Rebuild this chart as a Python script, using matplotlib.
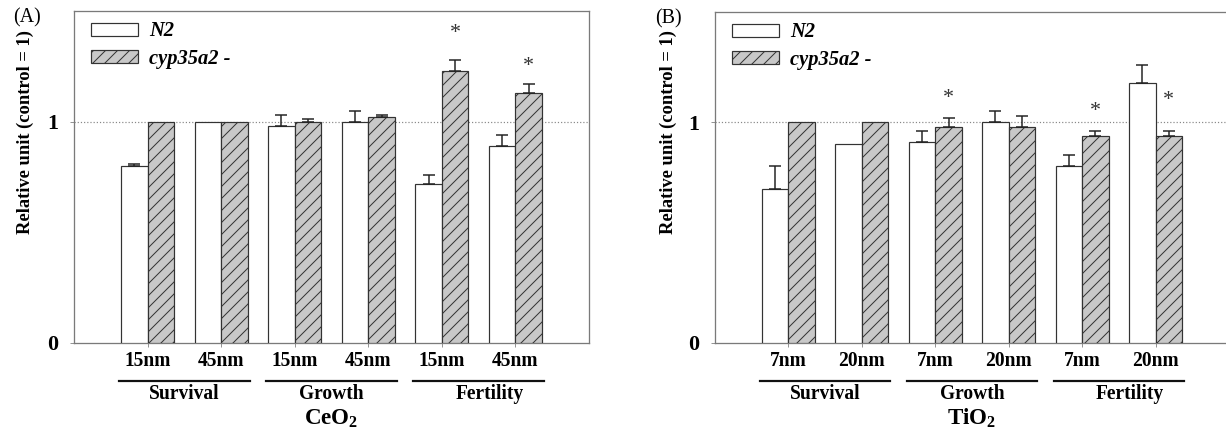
import numpy as np
import matplotlib
matplotlib.use("Agg")
import matplotlib.pyplot as plt
import matplotlib.transforms as mtransforms

plt.rcParams['font.family'] = ['Liberation Serif', 'DejaVu Serif']
plt.rcParams['mathtext.fontset'] = 'custom'
plt.rcParams['mathtext.rm'] = 'Liberation Serif:bold'
plt.rcParams['mathtext.bf'] = 'Liberation Serif:bold'
plt.rcParams['hatch.linewidth'] = 1.0
plt.rcParams['hatch.color'] = '#222222'

#%% data

groups = ["Survival", "Growth", "Fertility"]

# panel A - CeO2
a_ticks = ["15nm", "45nm", "15nm", "45nm", "15nm", "45nm"]
a_n2 = [0.80, 1.00, 0.98, 1.00, 0.72, 0.89]
a_n2_err = [0.01, 0.00, 0.05, 0.05, 0.04, 0.05]
a_cyp = [1.00, 1.00, 1.00, 1.02, 1.23, 1.13]
a_cyp_err = [0.00, 0.00, 0.01, 0.01, 0.05, 0.04]
a_star_idx = [4, 5]
a_star_y = [1.40, 1.25]

# panel B - TiO2
b_ticks = ["7nm", "20nm", "7nm", "20nm", "7nm", "20nm"]
b_n2 = [0.70, 0.90, 0.91, 1.00, 0.80, 1.18]
b_n2_err = [0.10, 0.00, 0.05, 0.05, 0.05, 0.08]
b_cyp = [1.00, 1.00, 0.98, 0.98, 0.94, 0.94]
b_cyp_err = [0.00, 0.00, 0.04, 0.05, 0.02, 0.02]
b_star_idx = [2, 4, 5]
b_star_y = [1.11, 1.05, 1.10]

#%% plotting

W, H, DPI = 1226, 441, 72
fig = plt.figure(figsize=(W / DPI, H / DPI), dpi=DPI)

bar_w = 0.36
edge = '#333333'
spine_col = '#7a7a7a'


def draw_panel(ax, ticks, n2, n2_err, cyp, cyp_err, star_idx, star_y, title, letter, ylab_x):
    x = np.arange(len(ticks))
    ax.bar(x - bar_w / 2, n2, bar_w, color='white', edgecolor=edge, linewidth=1.2,
           label='N2', zorder=3)
    ax.bar(x + bar_w / 2, cyp, bar_w, color='#c8c8c8', edgecolor=edge, linewidth=1.2,
           hatch='//', label='cyp35a2 -', zorder=3)
    for xi, v, e in zip(x, n2, n2_err):
        if e > 0:
            ax.errorbar(xi - bar_w / 2, v, yerr=[[0], [e]], color='#222222', lw=1.5,
                        capsize=6, capthick=1.5, zorder=4)
    for xi, v, e in zip(x, cyp, cyp_err):
        if e > 0:
            ax.errorbar(xi + bar_w / 2, v, yerr=[[0], [e]], color='#222222', lw=1.5,
                        capsize=6, capthick=1.5, zorder=4)
    for i, sy in zip(star_idx, star_y):
        ax.text(x[i] + bar_w / 2, sy, '*', ha='center', va='center', fontsize=22,
                color='#333333')

    ax.axhline(1, color='#888888', ls=':', lw=1.2, zorder=2)
    ax.set_xlim(-1, 6)
    ax.set_ylim(0, 1.5)
    ax.set_xticks(x)
    ax.set_xticklabels(ticks, fontsize=19.5, fontweight='bold')
    ax.set_yticks([0, 1])
    ax.set_yticklabels(['0', '1'], fontsize=22, fontweight='bold')
    ax.tick_params(axis='both', length=4, color=spine_col)
    ax.tick_params(axis='x', pad=4)
    ax.tick_params(axis='y', pad=12)
    for s in ax.spines.values():
        s.set_color(spine_col)
        s.set_linewidth(1.3)
    ax.set_ylabel('Relative unit (control = 1)', fontsize=18.5, fontweight='bold')
    ax.yaxis.set_label_coords(ylab_x, 0.636)

    trans = mtransforms.blended_transform_factory(ax.transData, ax.transAxes)
    for g, name in enumerate(groups):
        c = 2 * g + 0.5
        ax.plot([c - 0.89, c + 0.89], [-0.115, -0.115], color='#111111', lw=2.2,
                transform=trans, clip_on=False)
        off = 0.15 if name == "Fertility" else 0.0
        ax.text(c + off, -0.153, name, transform=trans, ha='center', va='center',
                fontsize=19.5, fontweight='bold')
    ax.text(0.5, -0.228, title, transform=ax.transAxes, ha='center', va='center',
            fontsize=23, fontweight='bold')

    ax.legend(loc='upper left', bbox_to_anchor=(0.005, 1.012), frameon=False,
              handlelength=2.3, handleheight=0.6, handletextpad=0.55,
              labelspacing=0.35, borderaxespad=0.3,
              prop={'size': 20.5, 'weight': 'bold', 'style': 'italic'})
    ax.text(-0.091, 0.979, letter, transform=ax.transAxes, fontsize=20,
            ha='center', va='center')


ax_a = fig.add_axes([74 / W, 98 / H, 515 / W, 332 / H])
draw_panel(ax_a, a_ticks, a_n2, a_n2_err, a_cyp, a_cyp_err, a_star_idx, a_star_y,
           r'CeO$_2$', '(A)', -0.078)

ax_b = fig.add_axes([715 / W, 98 / H, 514 / W, 331 / H])
draw_panel(ax_b, b_ticks, b_n2, b_n2_err, b_cyp, b_cyp_err, b_star_idx, b_star_y,
           r'TiO$_2$', '(B)', -0.074)

fig.savefig('out.png', dpi=DPI)
